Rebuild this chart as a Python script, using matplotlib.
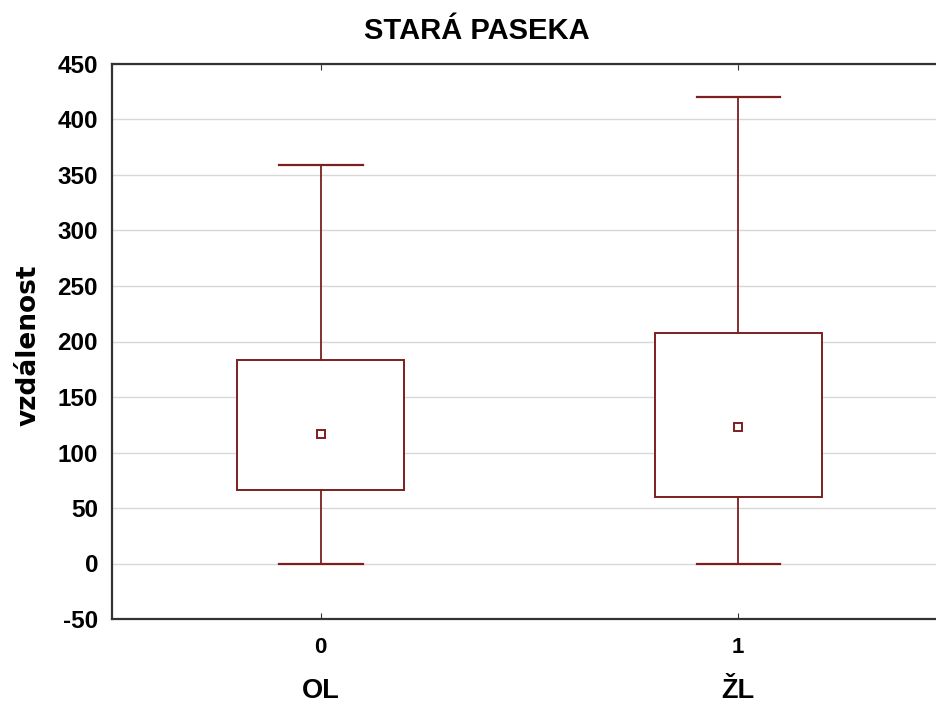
import matplotlib
matplotlib.use("Agg")
import matplotlib.pyplot as plt
from matplotlib.patches import Rectangle
from matplotlib.transforms import blended_transform_factory

plt.rcParams['font.family'] = ['Liberation Sans', 'DejaVu Sans']

title = "STARÁ PASEKA"
ylabel = "vzdálenost"
groups = ["OL", "ŽL"]
tick_labels = ["0", "1"]
positions = [0, 1]
q1 = [66, 60]
q3 = [183, 208]
means = [117, 123]
whisk_low = [0, 0]
whisk_high = [359, 420]
yticks = [-50, 0, 50, 100, 150, 200, 250, 300, 350, 400, 450]

col = '#7d1f1f'
fig = plt.figure(figsize=(9.36, 7.04), dpi=100)
ax = fig.add_axes([112/936, 85/704, 835/936, 555/704])
ax.set_xlim(-0.5, 1.5)
ax.set_ylim(-50, 450)

for p, lo, a, b, m, hi in zip(positions, whisk_low, q1, q3, means, whisk_high):
    ax.add_patch(Rectangle((p - 0.2, a), 0.4, b - a, facecolor='white',
                           edgecolor=col, linewidth=1.4, zorder=3))
    ax.plot([p, p], [b, hi], color=col, lw=1.3, zorder=3)
    ax.plot([p, p], [lo, a], color=col, lw=1.3, zorder=3)
    ax.plot([p - 0.1, p + 0.1], [hi, hi], color=col, lw=1.6, zorder=3)
    ax.plot([p - 0.1, p + 0.1], [lo, lo], color=col, lw=1.6, zorder=3)
    ax.plot([p], [m], marker='s', ms=6, mfc='white', mec=col, mew=1.4, zorder=4)

ax.set_yticks(yticks)
ax.set_yticklabels([str(v) for v in yticks], fontsize=17.5, fontweight='bold')
ax.yaxis.grid(True, color='#d8d8d8', lw=1)
ax.set_axisbelow(True)
ax.set_xticks(positions)
ax.set_xticklabels(tick_labels, fontsize=16, fontweight='bold')
ax.tick_params(axis='x', direction='in', length=4, top=True, pad=13, color='#333333')
ax.tick_params(axis='y', direction='in', length=0, pad=10)
for s in ['left', 'bottom', 'top']:
    ax.spines[s].set_color('#333333')
    ax.spines[s].set_linewidth(1.6)
ax.spines['right'].set_visible(False)

tr = blended_transform_factory(ax.transData, fig.transFigure)
for p, g in zip(positions, groups):
    ax.text(p, 1 - 698/704, g, transform=tr, ha='center', va='baseline',
            fontsize=19.5, fontweight='bold')

fig.text(28.5/936, 1 - 345/704, ylabel, rotation=90, ha='center', va='center',
         fontsize=19, fontweight='bold', family=['DejaVu Sans'])
fig.text(476.5/936, 1 - 39/704, title, ha='center', va='baseline',
         fontsize=21, fontweight='bold')

fig.savefig('out.png', dpi=100)
